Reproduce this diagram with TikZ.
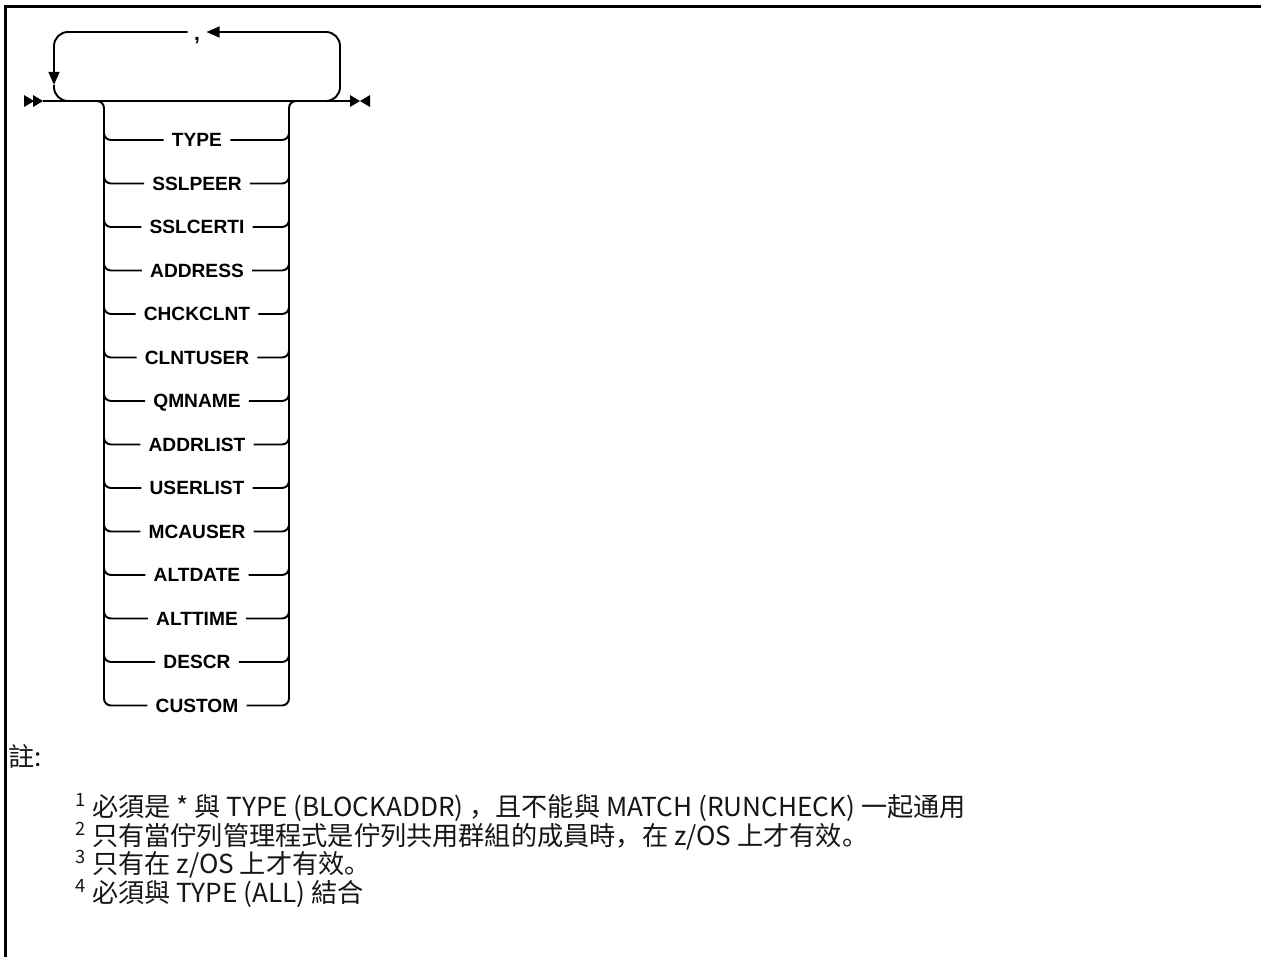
\documentclass[tikz,border=0pt]{standalone}
\usepackage{fontspec}
\setmainfont{Liberation Sans}
\newfontfamily\kwfont{Liberation Sans}
\newfontfamily\cjkfont{Noto Sans CJK SC}
\usetikzlibrary{arrows.meta}
\definecolor{railink}{RGB}{0,0,0}
\definecolor{noteink}{RGB}{22,22,22}
\tikzset{
  rail/.style={line width=1.1pt, color=railink},
  branch/.style={rail, rounded corners=0.14cm},
  loopback/.style={rail, rounded corners=0.28cm},
  backtip/.style={-{Triangle[length=7.5pt, width=6.2pt]}},
  keyword/.style={inner xsep=4.5pt, inner ysep=0pt, text height=7.9pt,
    text depth=0pt, font=\kwfont\bfseries\fontsize{10.9}{13}\selectfont},
  sepmark/.style={inner xsep=3.5pt, inner ysep=0pt, text height=0pt, text depth=0pt,
    font=\kwfont\bfseries\fontsize{12}{14}\selectfont},
  marker/.style={fill=railink},
  note/.style={anchor=base west, inner sep=0pt, text=noteink,
    font=\cjkfont\fontsize{14.9}{17}\selectfont},
  frame/.style={line width=1.7pt},
}

\begin{document}
\begin{tikzpicture}[x=0.02cm, y=-0.02cm]
  \useasboundingbox (0,0) rectangle (1261,957);
  \draw[frame] (5.5,957) -- (5.5,6.5) -- (1261,6.5);

  % main line with begin and end markers
  \coordinate (begin) at (43,101);
  \coordinate (end) at (350,101);
  \draw[rail] (begin) -- (end);
  \fill[marker] (24,95) -- (34,101) -- (24,107) -- cycle;
  \fill[marker] (33,95) -- (43,101) -- (33,107) -- cycle;
  \fill[marker] (350,95) -- (360,101) -- (350,107) -- cycle;
  \fill[marker] (370,95) -- (360,101) -- (370,107) -- cycle;

  % repeat loop
  \node[sepmark] (comma) at (197,32) {\raisebox{-5pt}{,}};
  \coordinate (looptop) at (340,32);
  \coordinate (loopin) at (320,101);
  \coordinate (loopdown) at (54,85);
  \coordinate (loopout) at (76,101);
  \draw[loopback, backtip] (loopin) -| (looptop) -- (comma.east);
  \draw[loopback, backtip] (comma.west) -| (loopdown);
  \draw[loopback] (loopdown) |- (loopout);

  % choice rails
  \coordinate (lsplit) at (92,101);
  \coordinate (lrail) at (104,120);
  \coordinate (rrail) at (289,120);
  \coordinate (rsplit) at (301,101);
  \draw[branch] (lsplit) -| (lrail);
  \draw[branch] (rrail) |- (rsplit);

  \node[keyword] (type) at (197,140) {TYPE};
  \node[keyword] (sslpeer) at (197,183.5) {SSLPEER};
  \node[keyword] (sslcerti) at (197,227) {SSLCERTI};
  \node[keyword] (address) at (197,270.5) {ADDRESS};
  \node[keyword] (chckclnt) at (197,314) {CHCKCLNT};
  \node[keyword] (clntuser) at (197,357.5) {CLNTUSER};
  \node[keyword] (qmname) at (197,401) {QMNAME};
  \node[keyword] (addrlist) at (197,444.5) {ADDRLIST};
  \node[keyword] (userlist) at (197,488) {USERLIST};
  \node[keyword] (mcauser) at (197,531.5) {MCAUSER};
  \node[keyword] (altdate) at (197,575) {ALTDATE};
  \node[keyword] (alttime) at (197,618.5) {ALTTIME};
  \node[keyword] (descr) at (197,662) {DESCR};
  \node[keyword] (custom) at (197,705.5) {CUSTOM};

  \draw[branch] (lrail) |- (type.west) (type.east) -| (rrail);
  \draw[branch] (lrail) |- (sslpeer.west) (sslpeer.east) -| (rrail);
  \draw[branch] (lrail) |- (sslcerti.west) (sslcerti.east) -| (rrail);
  \draw[branch] (lrail) |- (address.west) (address.east) -| (rrail);
  \draw[branch] (lrail) |- (chckclnt.west) (chckclnt.east) -| (rrail);
  \draw[branch] (lrail) |- (clntuser.west) (clntuser.east) -| (rrail);
  \draw[branch] (lrail) |- (qmname.west) (qmname.east) -| (rrail);
  \draw[branch] (lrail) |- (addrlist.west) (addrlist.east) -| (rrail);
  \draw[branch] (lrail) |- (userlist.west) (userlist.east) -| (rrail);
  \draw[branch] (lrail) |- (mcauser.west) (mcauser.east) -| (rrail);
  \draw[branch] (lrail) |- (altdate.west) (altdate.east) -| (rrail);
  \draw[branch] (lrail) |- (alttime.west) (alttime.east) -| (rrail);
  \draw[branch] (lrail) |- (descr.west) (descr.east) -| (rrail);
  \draw[branch] (lrail) |- (custom.west) (custom.east) -| (rrail);

  % notes
  \node[note] (notehead) at (8,766) {註:};
  \node[note] (note1) at (75,816) {\textsuperscript{1} 必須是 * 與 TYPE (BLOCKADDR) ，且不能與 MATCH (RUNCHECK) 一起通用};
  \node[note] (note2) at (75,845) {\textsuperscript{2} 只有當佇列管理程式是佇列共用群組的成員時，在 z/OS 上才有效。};
  \node[note] (note3) at (75,873) {\textsuperscript{3} 只有在 z/OS 上才有效。};
  \node[note] (note4) at (75,902) {\textsuperscript{4} 必須與 TYPE (ALL) 結合};
\end{tikzpicture}
\end{document}
